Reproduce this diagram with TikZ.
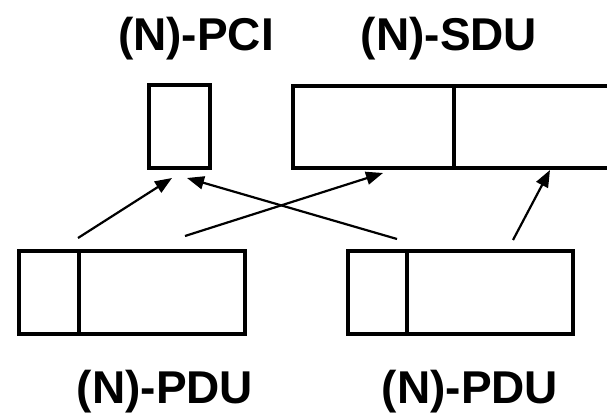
\documentclass[tikz,border=0pt]{standalone}
\usepackage{fontspec}
\setmainfont{Liberation Sans}
\usetikzlibrary{arrows.meta}
\begin{document}
\begin{tikzpicture}[x=1pt,y=-1pt,
  cell/.style={draw=black,line width=3.5pt,rectangle,inner sep=0pt,minimum width=#1},
  lbl/.style={inner sep=0pt,font=\fontsize{46}{50}\selectfont\bfseries},
  arr/.style={draw=black,line width=2.2pt,-{Triangle[length=17pt,width=13pt]}}]
\useasboundingbox (0,0) rectangle (607,414);
\clip (0,0) rectangle (607,414);
% top
\node[cell=61pt,minimum height=83pt] (pci) at (179.5,126.5) {};
\node[cell=340pt,minimum height=82pt,anchor=west] (sdu) at (291,127) {};
\draw[line width=3.5pt] (454,86) -- (454,168);
% bottom
\node[cell=226pt,minimum height=83pt] (pdu1) at (132,292.5) {};
\draw[line width=3.5pt] (79,251) -- (79,334);
\node[cell=225pt,minimum height=83pt] (pdu2) at (460.5,292.5) {};
\draw[line width=3.5pt] (407,251) -- (407,334);
% labels
\node[lbl] (lpci) at (196,38.5) {(N)-PCI};
\node[lbl] (lsdu) at (449,38.5) {(N)-SDU};
\node[lbl] (lpdu1) at (165,391.5) {(N)-PDU};
\node[lbl] (lpdu2) at (470,391.5) {(N)-PDU};
% arrow ends
\coordinate (s1) at (78,238);
\coordinate (e1) at (172,178);
\coordinate (s2) at (185,236);
\coordinate (e2) at (383,173);
\coordinate (s3) at (397,239);
\coordinate (e3) at (187,178);
\coordinate (s4) at (513,240);
\coordinate (e4) at (550,170);
\draw[arr] (s1) -- (e1);
\draw[arr] (s2) -- (e2);
\draw[arr] (s3) -- (e3);
\draw[arr] (s4) -- (e4);
\end{tikzpicture}
\end{document}
